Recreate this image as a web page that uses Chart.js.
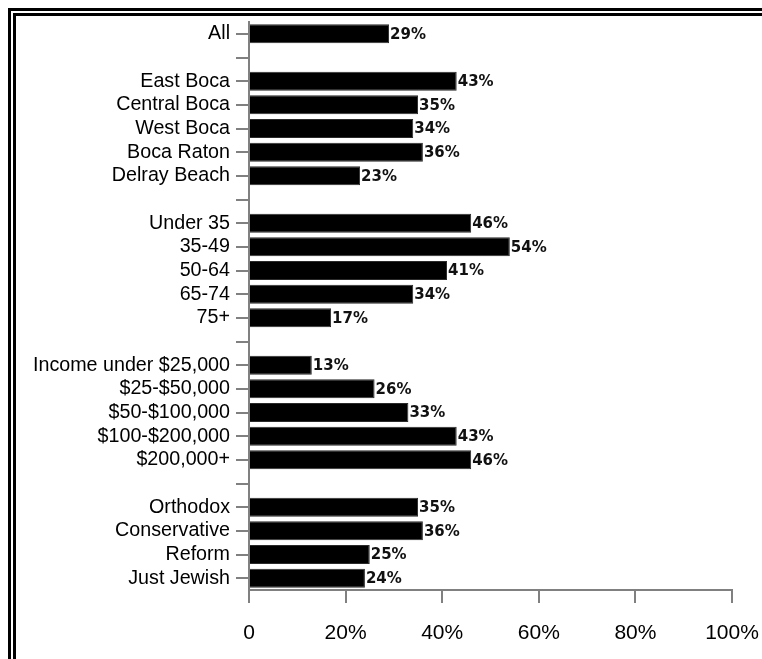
<!DOCTYPE html>
<html>
<head>
<meta charset="utf-8">
<script src="https://cdn.jsdelivr.net/npm/chart.js@4"></script>
<style>
  html, body { margin: 0; padding: 0; background: #fff; overflow: hidden; }
  canvas { display: block; }
</style>
</head>
<body>
<canvas id="myChart" width="762" height="659"></canvas>
<script>
// rows of the chart, empty strings are the spacer rows between groups
const categories = [
  'All', '',
  'East Boca', 'Central Boca', 'West Boca', 'Boca Raton', 'Delray Beach', '',
  'Under 35', '35-49', '50-64', '65-74', '75+', '',
  'Income under $25,000', '$25-$50,000', '$50-$100,000', '$100-$200,000', '$200,000+', '',
  'Orthodox', 'Conservative', 'Reform', 'Just Jewish'
];

const percents = [
  29, null,
  43, 35, 34, 36, 23, null,
  46, 54, 41, 34, 17, null,
  13, 26, 33, 43, 46, null,
  35, 36, 25, 24
];

const xTicks = [0, 20, 40, 60, 80, 100];
const xTickLabels = ['0', '20%', '40%', '60%', '80%', '100%'];

// double black frame along the top and left edge
const framePlugin = {
  id: 'frame',
  beforeDraw(chart) {
    const c = chart.ctx;
    c.save();
    c.fillStyle = '#fff';
    c.fillRect(0, 0, chart.width, chart.height);
    c.fillStyle = '#000';
    c.fillRect(8, 8, chart.width, 3);
    c.fillRect(8, 8, 3, chart.height);
    c.fillRect(13, 13, chart.width, 3);
    c.fillRect(13, 13, 3, chart.height);
    c.restore();
  }
};

// percent text right after the end of each bar
const valueLabels = {
  id: 'valueLabels',
  afterDatasetsDraw(chart) {
    const c = chart.ctx;
    const meta = chart.getDatasetMeta(0);
    c.save();
    c.font = 'bold 15px "DejaVu Sans"';
    c.fillStyle = '#111';
    c.textAlign = 'left';
    c.textBaseline = 'middle';
    meta.data.forEach((bar, i) => {
      const v = percents[i];
      if (v === null) return;
      c.fillText(v + '%', bar.x + 1, bar.y + 1);
    });
    c.restore();
  }
};

const ctx = document.getElementById('myChart');

new Chart(ctx, {
  type: 'bar',
  data: {
    labels: categories,
    datasets: [{
      data: percents,
      backgroundColor: '#000',
      borderColor: '#2a2a2a',
      borderWidth: 1,
      categoryPercentage: 1,
      barPercentage: 0.8
    }]
  },
  options: {
    indexAxis: 'y',
    responsive: false,
    animation: false,
    layout: {
      padding: { top: 22, right: 30, left: 0, bottom: 0 }
    },
    plugins: {
      legend: { display: false },
      tooltip: { enabled: false }
    },
    scales: {
      x: {
        min: 0,
        max: 100,
        afterFit(scale) {
          scale.height = 69;
          scale.paddingLeft = 0;
          scale.paddingRight = 0;
        },
        afterBuildTicks(scale) { scale.ticks = xTicks.map(v => ({ value: v })); },
        ticks: {
          color: '#000',
          font: { family: '"Liberation Sans", Arial', size: 21 },
          padding: 18,
          maxRotation: 0,
          callback: (v, i) => xTickLabels[i]
        },
        grid: {
          drawOnChartArea: false,
          drawTicks: true,
          tickLength: 13,
          color: '#808080',
          lineWidth: 2
        },
        border: { display: true, color: '#808080', width: 2 }
      },
      y: {
        afterFit(scale) { scale.width = 249; },
        ticks: {
          color: '#000',
          font: { family: '"Liberation Sans", Arial', size: 19.7 },
          padding: 6,
          autoSkip: false
        },
        grid: {
          offset: false,
          drawOnChartArea: false,
          drawTicks: true,
          tickLength: 13,
          color: '#808080',
          lineWidth: 2
        },
        border: { display: true, color: '#808080', width: 2 }
      }
    }
  },
  plugins: [framePlugin, valueLabels]
});
</script>
</body>
</html>
